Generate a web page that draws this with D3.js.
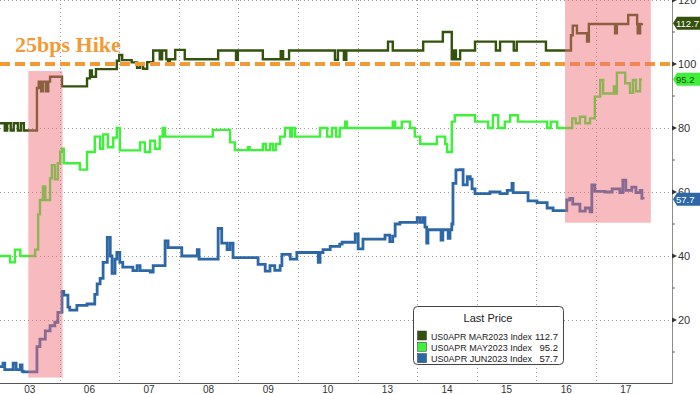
<!DOCTYPE html>
<html>
<head>
<meta charset="utf-8">
<script src="https://cdnjs.cloudflare.com/ajax/libs/d3/7.8.5/d3.min.js"></script>
<style>
  body { margin: 0; background: #fff; }
  svg { display: block; }
</style>
</head>
<body>
<svg id="chart"></svg>
<script>
// trading days on the x axis
var days = ['03', '06', '07', '08', '09', '10', '13', '14', '15', '16', '17'];
var yTicks = [20, 40, 60, 80, 100, 120];
var hikeLevel = 100;

// [day index (fraction of session), price index]
var marData = [
  [0, 81.5], [0.08, 79.2], [0.12, 81.5], [0.18, 79.2], [0.23, 81.5], [0.30, 79.2], [0.35, 81.5], [0.40, 79.2],
  [0.62, 92.5], [0.65, 94.5], [0.69, 91.5], [0.72, 94.5], [0.77, 91.5], [0.81, 94.5], [0.84, 96], [1.04, 93],
  [1.46, 95.5], [1.51, 98], [1.54, 96], [1.61, 98.4], [1.96, 101], [2.00, 102.8], [2.05, 101.2], [2.21, 100.5],
  [2.30, 98.8], [2.35, 99.8], [2.40, 98.5], [2.47, 100.6], [2.57, 104.2], [2.68, 101.5], [2.72, 104.2],
  [2.79, 101.5], [2.82, 100], [2.85, 101.5], [2.94, 104.4], [3.10, 101.5], [3.66, 104.2], [3.96, 101.3],
  [3.99, 104.2], [4.41, 101.5], [4.71, 104], [4.75, 101.5], [4.85, 104.2], [5.62, 101.3], [5.67, 104.2],
  [5.77, 101.3], [5.81, 104.2], [6.51, 107], [6.59, 104.2], [7.10, 107], [7.43, 110], [7.58, 101.5],
  [7.62, 104.2], [7.65, 101.5], [7.72, 104.2], [7.97, 107], [8.32, 104.2], [8.39, 107], [8.62, 104.2],
  [8.67, 107], [9.16, 104.2], [9.58, 109], [9.61, 112], [9.68, 109.6], [9.85, 107], [9.88, 112.5],
  [10.32, 109.6], [10.35, 112.5], [10.54, 115.3], [10.69, 112.5], [10.70, 109.6], [10.74, 112.5], [10.77, 112.7]
];
var mayData = [
  [0, 40], [0.17, 38], [0.25, 42], [0.34, 40], [0.59, 42], [0.64, 53], [0.67, 57.5], [0.72, 61.7], [0.76, 57.5],
  [0.84, 64.3], [0.87, 68.4], [0.92, 64], [0.97, 69], [1.01, 72.6], [1.04, 73.5], [1.07, 69], [1.34, 67],
  [1.46, 72.5], [1.59, 77.3], [1.68, 73.5], [1.73, 78], [1.81, 74], [1.90, 77], [1.96, 80], [2.01, 73],
  [2.35, 75.5], [2.43, 72.5], [2.52, 76], [2.60, 73.5], [2.68, 77.3], [2.73, 80], [2.77, 77.3], [3.57, 79.4],
  [3.86, 75.5], [3.94, 73.1], [4.16, 74], [4.19, 73.1], [4.41, 75], [4.46, 73.1], [4.53, 75], [4.58, 73.1],
  [4.63, 75], [4.70, 77.3], [4.78, 80], [4.87, 77.3], [4.90, 80], [4.95, 77.3], [5.37, 80], [5.49, 77.3],
  [5.57, 80], [5.64, 77.3], [5.70, 80], [5.79, 82], [5.82, 80], [6.59, 82], [6.63, 80], [6.74, 82], [6.88, 80],
  [6.96, 77.3], [7.05, 75], [7.33, 77.3], [7.47, 75], [7.50, 72.5], [7.58, 82], [7.63, 84], [7.97, 82],
  [8.19, 80], [8.27, 84], [8.36, 80], [8.47, 82], [8.56, 84], [8.69, 82], [9.18, 80], [9.24, 82], [9.35, 80],
  [9.60, 83], [9.66, 81.5], [9.73, 83.5], [9.82, 81.5], [9.90, 83], [9.98, 89.8], [10.07, 95], [10.12, 90.8],
  [10.30, 93], [10.34, 90.8], [10.35, 97.3], [10.49, 94], [10.57, 91], [10.62, 95], [10.67, 91.5], [10.74, 95.2],
  [10.77, 95.2]
];
var junData = [
  [0, 5.4], [0.05, 6.5], [0.08, 4.5], [0.22, 6.5], [0.27, 4.5], [0.34, 6], [0.37, 4], [0.39, 3.8], [0.62, 11.7],
  [0.67, 14], [0.76, 16.6], [0.84, 18.2], [0.92, 19.3], [0.97, 22.4], [1.04, 28.9], [1.07, 27.8], [1.14, 24],
  [1.17, 23.1], [1.29, 24.6], [1.46, 25], [1.59, 28], [1.63, 31.3], [1.68, 33], [1.73, 38], [1.80, 45.8],
  [1.85, 40], [1.88, 34.6], [1.93, 39], [1.96, 41.1], [2.01, 38], [2.06, 36.5], [2.23, 35.4], [2.30, 37],
  [2.35, 35.4], [2.52, 35], [2.57, 37], [2.73, 37], [2.77, 44.7], [2.82, 42.6], [3.02, 42.6], [3.05, 40],
  [3.27, 40], [3.31, 42], [3.34, 39], [3.57, 39], [3.66, 48.6], [3.72, 44], [3.81, 42], [3.86, 44], [3.91, 39.5],
  [4.31, 39.5], [4.33, 37.4], [4.45, 35.3], [4.53, 37], [4.61, 35.5], [4.70, 37], [4.73, 40.5], [4.87, 39],
  [4.98, 41.1], [5.34, 38], [5.37, 41.1], [5.42, 42], [5.54, 43], [5.70, 43.7], [5.74, 44.3], [5.96, 46.9],
  [6.01, 42.2], [6.09, 45.3], [6.46, 46.5], [6.54, 44.5], [6.59, 46.2], [6.63, 50], [6.71, 50.5], [7.00, 52],
  [7.05, 50.5], [7.10, 52], [7.13, 49], [7.16, 44], [7.18, 48.2], [7.40, 45], [7.43, 48.2], [7.52, 45.5],
  [7.55, 48.2], [7.58, 50], [7.60, 62.7], [7.65, 66.9], [7.72, 67], [7.77, 62.2], [7.84, 64.8], [7.89, 64],
  [7.92, 61], [7.97, 59.5], [8.22, 60], [8.39, 59.5], [8.51, 60.5], [8.59, 62.7], [8.61, 59.8], [8.86, 57.2],
  [9.01, 56.7], [9.18, 55], [9.28, 54.2], [9.51, 57.5], [9.56, 58], [9.61, 56.2], [9.73, 54], [9.82, 55],
  [9.90, 53.8], [9.93, 62.2], [9.98, 60.2], [10.15, 60], [10.27, 61], [10.40, 59.8], [10.45, 63.7],
  [10.50, 60.5], [10.60, 61.5], [10.67, 59.8], [10.74, 60.5], [10.77, 58], [10.79, 57.7]
];

var seriesNames = ['US0APR MAR2023 Index', 'US0APR MAY2023 Index', 'US0APR JUN2023 Index'];
var lastValues = [112.7, 95.2, 57.7];
var colors = ['#34520e', '#3ff03a', '#2d67a6'];

// shaded windows: [from day, to day, low, high]
var highlights = [[0.475, 1.05, 2, 97.8], [9.48, 10.92, 50.4, 120]];

var width = 700, height = 394;
var plotRight = 672, plotBottom = 384;

var svg = d3.select('#chart').attr('width', width).attr('height', height)
  .style('font-family', '"Liberation Sans", Arial, sans-serif');

var x = d3.scaleLinear().domain([0, 11.275]).range([0, plotRight]);
var y = d3.scaleLinear().domain([0, 120]).range([plotBottom, 0]);

// grid
var grid = svg.append('g').attr('stroke', '#999').attr('stroke-dasharray', '1,3').attr('stroke-width', 1);
grid.selectAll('line.h').data(yTicks.filter(d => d != hikeLevel)).enter().append('line')
  .attr('x1', 0).attr('x2', plotRight)
  .attr('y1', d => Math.round(y(d)) + 0.5).attr('y2', d => Math.round(y(d)) + 0.5);
grid.selectAll('line.v').data(d3.range(1, days.length)).enter().append('line')
  .attr('x1', d => Math.round(x(d)) + 0.5).attr('x2', d => Math.round(x(d)) + 0.5)
  .attr('y1', 0).attr('y2', plotBottom);

// series
var line = d3.line().x(d => x(d[0])).y(d => y(d[1])).curve(d3.curveStepAfter);
[marData, mayData, junData].forEach(function(data, i) {
  svg.append('path').datum(data)
    .attr('d', line)
    .attr('fill', 'none')
    .attr('stroke', colors[i])
    .attr('stroke-width', i == 2 ? 2.8 : 2.4)
    .attr('stroke-linejoin', 'miter');
});

// 25bps line
svg.append('line')
  .attr('x1', 0).attr('x2', plotRight + 2)
  .attr('y1', y(hikeLevel)).attr('y2', y(hikeLevel))
  .attr('stroke', '#f39a36').attr('stroke-width', 4).attr('stroke-dasharray', '10,5');

svg.append('text')
  .attr('x', 15).attr('y', 52)
  .attr('font-family', '"Liberation Serif", "DejaVu Serif", serif')
  .attr('font-weight', 'bold').attr('font-size', 22)
  .attr('fill', '#f39a36')
  .text('25bps Hike');

// pink windows drawn over the lines
svg.selectAll('rect.hl').data(highlights).enter().append('rect')
  .attr('x', d => x(d[0])).attr('width', d => x(d[1]) - x(d[0]))
  .attr('y', d => y(d[3])).attr('height', d => y(d[2]) - y(d[3]))
  .attr('fill', '#ee6f7a').attr('fill-opacity', 0.48);

// bottom axis
svg.append('line').attr('x1', 0).attr('x2', plotRight).attr('y1', 383.5).attr('y2', 383.5)
  .attr('stroke', '#555').attr('stroke-width', 1);
svg.selectAll('text.day').data(days).enter().append('text')
  .attr('x', (d, i) => x(i + 0.5)).attr('y', 393)
  .attr('text-anchor', 'middle').attr('font-size', 10).attr('fill', '#333')
  .text(d => d);

// right axis
svg.append('line').attr('x1', plotRight + 0.5).attr('x2', plotRight + 0.5).attr('y1', 0).attr('y2', 384)
  .attr('stroke', '#8f8f80').attr('stroke-width', 1);
svg.selectAll('line.minor').data([10, 30, 50, 70, 90, 110]).enter().append('line')
  .attr('x1', plotRight).attr('x2', plotRight + 3)
  .attr('y1', d => y(d)).attr('y2', d => y(d))
  .attr('stroke', '#666');
svg.selectAll('path.major').data(yTicks).enter().append('path')
  .attr('d', d => 'M' + plotRight + ',' + (y(d) - 2.5) + 'L' + (plotRight + 5) + ',' + y(d) + 'L' + plotRight + ',' + (y(d) + 2.5) + 'Z')
  .attr('fill', '#333');
svg.selectAll('text.ytick').data(yTicks).enter().append('text')
  .attr('x', plotRight + 6).attr('y', d => Math.max(y(d) + 4, 4))
  .attr('font-size', 11).attr('fill', '#333')
  .text(d => d);

// last value tags
var tagFill = ['#34520e', '#3ff03a', '#2d67a6'];
var tagText = ['#fff', '#1d4a10', '#fff'];
lastValues.forEach(function(v, i) {
  var cy = y(v);
  svg.append('path')
    .attr('d', 'M' + (plotRight + 1) + ',' + cy + 'L' + (plotRight + 5) + ',' + (cy - 6.5) + 'L700,' + (cy - 6.5) +
      'L700,' + (cy + 6.5) + 'L' + (plotRight + 5) + ',' + (cy + 6.5) + 'Z')
    .attr('fill', tagFill[i]);
  svg.append('text')
    .attr('x', plotRight + 4).attr('y', cy + 3.5)
    .attr('font-size', 9.5).attr('fill', tagText[i])
    .text(v.toFixed(1));
});

// legend
var lg = svg.append('g').attr('transform', 'translate(413,306)');
lg.append('rect').attr('x', 0.5).attr('y', 0.5).attr('width', 150).attr('height', 58).attr('rx', 4)
  .attr('fill', '#fff').attr('stroke', '#444').attr('stroke-width', 1);
lg.append('text').attr('x', 75).attr('y', 16).attr('text-anchor', 'middle')
  .attr('font-size', 11).attr('fill', '#222').text('Last Price');
seriesNames.forEach(function(name, i) {
  var ry = 25 + i * 11.3;
  lg.append('rect').attr('x', 4.5).attr('y', ry).attr('width', 9).attr('height', 9)
    .attr('fill', colors[i]).attr('stroke', '#333').attr('stroke-width', 0.5);
  lg.append('text').attr('x', 18).attr('y', ry + 8.5)
    .attr('font-size', 9).attr('fill', '#222')
    .attr('textLength', 101).attr('lengthAdjust', 'spacingAndGlyphs')
    .text(name);
  lg.append('text').attr('x', 145).attr('y', ry + 8.5).attr('text-anchor', 'end')
    .attr('font-size', 9.5).attr('fill', '#222')
    .text(lastValues[i].toFixed(1));
});
</script>
</body>
</html>
